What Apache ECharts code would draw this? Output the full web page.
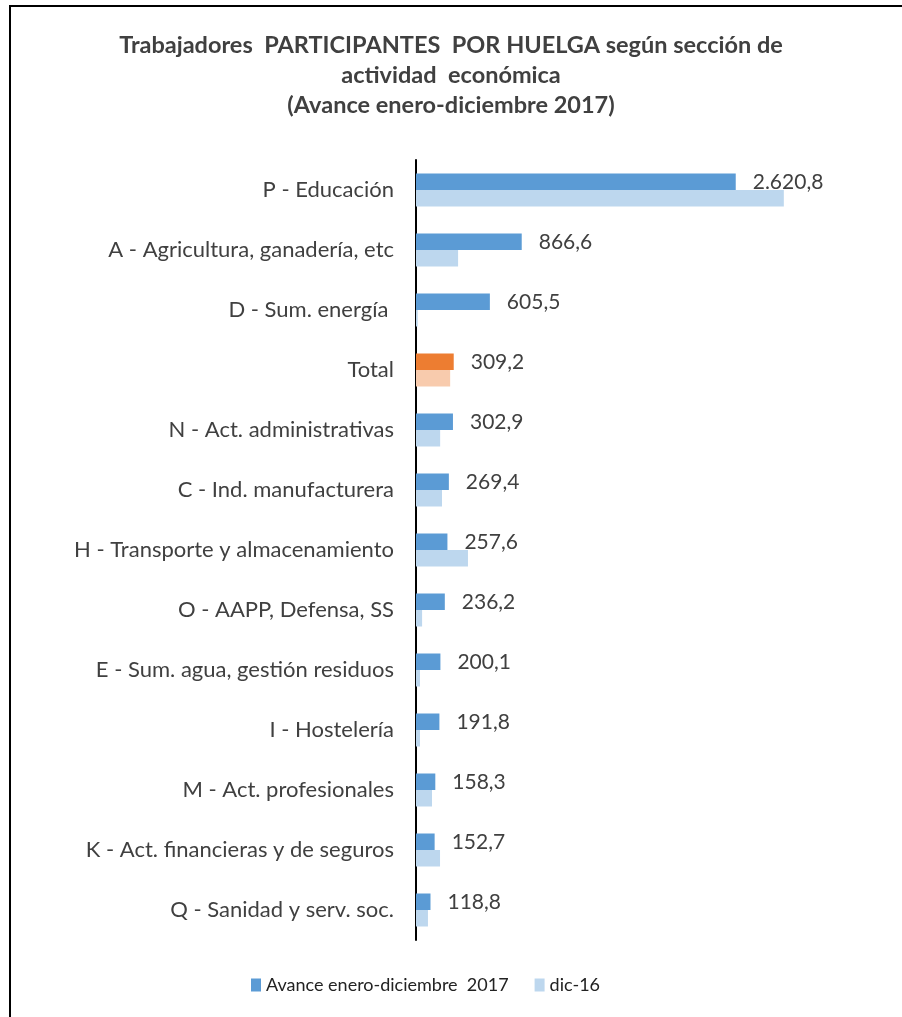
<!DOCTYPE html>
<html><head><meta charset="utf-8">
<script src="https://cdn.jsdelivr.net/npm/echarts@6/dist/echarts.min.js"></script>
<style>html,body{margin:0;padding:0;background:#fff}#c{width:902px;height:1017px}</style>
</head><body><div id="c"></div>
<script>
var categories = ["P - Educación","A - Agricultura, ganadería, etc","D - Sum. energía ","Total","N - Act. administrativas","C - Ind. manufacturera","H - Transporte y almacenamiento","O - AAPP, Defensa, SS","E - Sum. agua, gestión residuos","I - Hostelería","M - Act. profesionales","K - Act. financieras y de seguros","Q - Sanidad y serv. soc."];
var avance2017 = [2620.8, 866.6, 605.5, 309.2, 302.9, 269.4, 257.6, 236.2, 200.1, 191.8, 158.3, 152.7, 118.8];
var dic16 = [3015, 345, 14, 280, 198, 213, 426, 50, 33, 33, 131, 197, 98];
var seriesNames = ["Avance enero-diciembre  2017", "dic-16"];

var FONT = "Lato";
var TXT = "#404040";
function fmt(v){
  var s = v.toFixed(1).split(".");
  var i = s[0].replace(/\B(?=(\d{3})+(?!\d))/g, ".");
  return i + "," + s[1];
}
function mk(arr, hi){
  return arr.map(function(v, k){
    var d = {value: v};
    if (categories[k] === "Total") d.itemStyle = {color: hi};
    return d;
  });
}
var chart = echarts.init(document.getElementById('c'), null, {renderer:'canvas'});
chart.setOption({
  backgroundColor: '#fff',
  animation: false,
  graphic: [{type:'rect', shape:{x:10, y:6, width:1000, height:1100}, style:{fill:'none', stroke:'#000', lineWidth:2}}],
  title: {
    text: "Trabajadores  PARTICIPANTES  POR HUELGA según sección de\nactividad  económica\n(Avance enero-diciembre 2017)",
    left: 'center', top: 25,
    textStyle: {fontFamily: FONT, fontSize: 23.5, fontWeight: 'bold', color: TXT, lineHeight: 30}
  },
  legend: {
    bottom: 18, left: 246, itemWidth: 10, itemHeight: 13, itemGap: 26,
    icon: 'rect',
    textStyle: {fontFamily: FONT, fontSize: 18, color: '#222'},
    data: seriesNames
  },
  grid: {left: 416, right: 59, top: 160, bottom: 77, containLabel: false},
  xAxis: {type: 'value', min: 0, max: 3500, show: false},
  yAxis: {
    type: 'category', data: categories, inverse: true,
    axisLine: {show: true, lineStyle: {color: '#000', width: 2}},
    axisTick: {show: false},
    axisLabel: {fontFamily: FONT, fontSize: 22, color: TXT, margin: 22}
  },
  series: [
    {name: seriesNames[0], type: 'bar', data: mk(avance2017, '#ED7D31'),
     itemStyle: {color: '#5B9BD5'}, barGap: '0%', barCategoryGap: '45%',
     label: {show: true, position: 'right', distance: 17, fontFamily: FONT, fontSize: 21, color: TXT,
       formatter: function(p){ return fmt(p.value); }}},
    {name: seriesNames[1], type: 'bar', data: mk(dic16, '#F8CBAD'),
     itemStyle: {color: '#BDD7EE'}, barGap: '0%', barCategoryGap: '45%'}
  ]
});
</script></body></html>
